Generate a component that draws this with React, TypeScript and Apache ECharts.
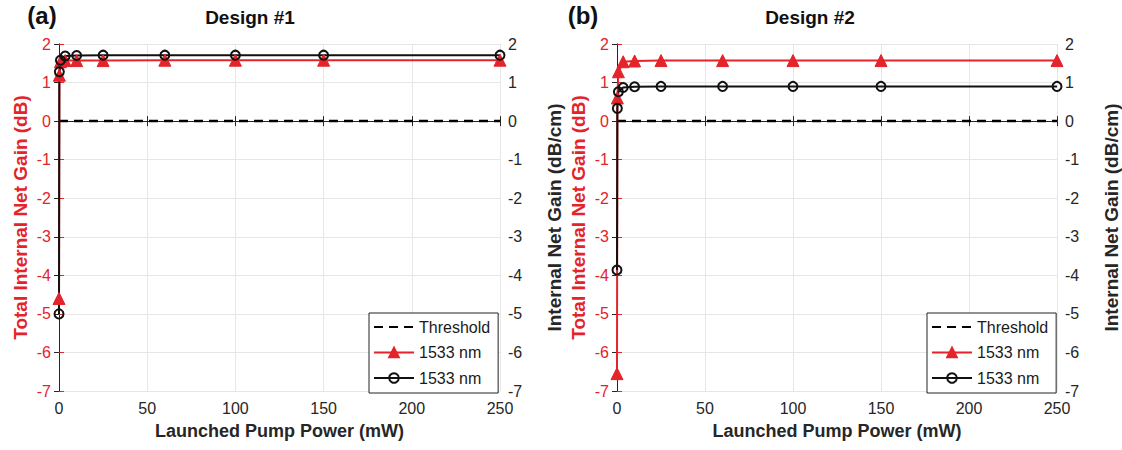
import React, { useEffect, useRef } from "react";
import * as echarts from "echarts";

// ---- data ----
const pumpPower = [0, 0.2, 0.8, 3.5, 10, 25, 60, 100, 150, 250];
const totalGainA = [-4.6, 1.19, 1.54, 1.57, 1.57, 1.57, 1.58, 1.58, 1.58, 1.58];
const perCmGainA = [-5.0, 1.28, 1.58, 1.69, 1.7, 1.71, 1.71, 1.71, 1.71, 1.71];
const totalGainB = [-6.55, 0.6, 1.28, 1.54, 1.56, 1.57, 1.57, 1.57, 1.57, 1.57];
const perCmGainB = [-3.86, 0.33, 0.76, 0.87, 0.89, 0.9, 0.9, 0.9, 0.9, 0.9];
const thresholdX = [0, 250];
const thresholdY = [0, 0];
const panelLabels = ["(a)", "(b)"];
const panelTitles = ["Design #1", "Design #2"];
const legendLabels: Record<string, string> = {
  thrA: "Threshold", redA: "1533 nm", blkA: "1533 nm",
  thrB: "Threshold", redB: "1533 nm", blkB: "1533 nm",
};

const FONT = "'Liberation Sans', Arial, sans-serif";
const RED = "#e4232a";
const DARK = "#262626";
const GRIDC = "#e6e6e6";

function pairs(xs: number[], ys: number[]) {
  return xs.map((x, i) => [x, ys[i]]);
}

export default function App() {
  const ref = useRef<HTMLDivElement>(null);
  useEffect(() => {
    document.body.style.margin = "0";
    if (!ref.current) return;
    const chart = echarts.init(ref.current, undefined, { renderer: "svg" });

    const grids = [
      { left: 59, top: 44, width: 441, height: 347 },
      { left: 617, top: 44, width: 441, height: 347 },
    ];

    const xAxes: any[] = [];
    const yAxes: any[] = [];
    [0, 1].forEach((g) => {
      xAxes.push({
        type: "value", gridIndex: g, min: 0, max: 250, interval: 50,
        name: "Launched Pump Power (mW)", nameLocation: "middle", nameGap: 31,
        nameTextStyle: { fontFamily: FONT, fontSize: 18, fontWeight: "bold", color: DARK },
        axisLine: { lineStyle: { color: DARK, width: 1 } },
        axisTick: { inside: true, length: 5, lineStyle: { color: DARK } },
        axisLabel: { fontFamily: FONT, fontSize: 16, color: DARK, margin: 9 },
        splitLine: { show: true, lineStyle: { color: GRIDC } },
      });
      xAxes.push({
        type: "value", gridIndex: g, min: 0, max: 250, interval: 50, position: "top",
        axisLine: { lineStyle: { color: DARK, width: 1 } },
        axisTick: { inside: true, length: 5, lineStyle: { color: DARK } },
        axisLabel: { show: false },
        splitLine: { show: false },
      });
      yAxes.push({
        type: "value", gridIndex: g, min: -7, max: 2, interval: 1, position: "left",
        name: "Total Internal Net Gain (dB)", nameLocation: "middle", nameRotate: 90, nameGap: 29,
        nameTextStyle: { fontFamily: FONT, fontSize: 19, fontWeight: "bold", color: RED },
        axisLine: { lineStyle: { color: RED, width: 1 } },
        axisTick: { inside: true, length: 5, lineStyle: { color: RED } },
        axisLabel: { fontFamily: FONT, fontSize: 16, color: RED, margin: 8 },
        splitLine: { show: true, lineStyle: { color: GRIDC } },
      });
      yAxes.push({
        type: "value", gridIndex: g, min: -7, max: 2, interval: 1, position: "right",
        name: "Internal Net Gain (dB/cm)", nameLocation: "middle", nameRotate: 90, nameGap: 45,
        nameTextStyle: { fontFamily: FONT, fontSize: 19, fontWeight: "bold", color: DARK },
        axisLine: { lineStyle: { color: DARK, width: 1 } },
        axisTick: { inside: true, length: 5, lineStyle: { color: DARK } },
        axisLabel: { fontFamily: FONT, fontSize: 16, color: DARK, margin: 8 },
        splitLine: { show: false },
      });
    });

    const mkSeries = (g: number, suffix: string, red: number[], blk: number[]) => [
      {
        name: "thr" + suffix, type: "line", xAxisIndex: g * 2, yAxisIndex: g * 2,
        data: pairs(thresholdX, thresholdY), symbol: "none",
        lineStyle: { color: "#000", width: 2.5, type: [9, 6] },
        itemStyle: { color: "#000" },
      },
      {
        name: "red" + suffix, type: "line", xAxisIndex: g * 2, yAxisIndex: g * 2,
        data: pairs(pumpPower, red), symbol: "triangle", symbolSize: 12,
        lineStyle: { color: RED, width: 2 },
        itemStyle: { color: RED, borderColor: RED, borderWidth: 1 },
      },
      {
        name: "blk" + suffix, type: "line", xAxisIndex: g * 2, yAxisIndex: g * 2 + 1,
        data: pairs(pumpPower, blk), symbol: "circle", symbolSize: 9,
        lineStyle: { color: "#111", width: 2 },
        itemStyle: { color: "rgba(0,0,0,0)", borderColor: "#111", borderWidth: 2 },
      },
    ];

    const legendCommon = {
      orient: "vertical", top: 313, itemWidth: 40, itemHeight: 12, itemGap: 9.5,
      padding: [6, 8, 7, 4], borderColor: "#222", borderWidth: 1, backgroundColor: "#fff",
      textStyle: { fontFamily: FONT, fontSize: 16, color: "#1a1a1a" },
      formatter: (n: string) => legendLabels[n] || n,
    };
    const hidden = { color: "rgba(0,0,0,0)", borderColor: "rgba(0,0,0,0)", borderWidth: 0 };

    const graphics: any[] = [
      { type: "text", x: 42, y: 15, style: { text: panelLabels[0], font: `bold 24px ${FONT}`, fill: "#111", textAlign: "center", textVerticalAlign: "middle" } },
      { type: "text", x: 583, y: 15, style: { text: panelLabels[1], font: `bold 24px ${FONT}`, fill: "#111", textAlign: "center", textVerticalAlign: "middle" } },
      { type: "text", x: 250, y: 17, style: { text: panelTitles[0], font: `bold 19px ${FONT}`, fill: "#111", textAlign: "center", textVerticalAlign: "middle" } },
      { type: "text", x: 810, y: 17, style: { text: panelTitles[1], font: `bold 19px ${FONT}`, fill: "#111", textAlign: "center", textVerticalAlign: "middle" } },
    ];

    chart.setOption({
      animation: false,
      backgroundColor: "#fff",
      grid: grids,
      xAxis: xAxes,
      yAxis: yAxes,
      legend: [
        { ...legendCommon, left: 369, data: [{ name: "thrA", itemStyle: hidden }, "redA", "blkA"] },
        { ...legendCommon, left: 927, data: [{ name: "thrB", itemStyle: hidden }, "redB", "blkB"] },
      ],
      graphic: graphics,
      series: [
        ...mkSeries(0, "A", totalGainA, perCmGainA),
        ...mkSeries(1, "B", totalGainB, perCmGainB),
      ],
    });
    return () => chart.dispose();
  }, []);
  return <div ref={ref} style={{ width: 1122, height: 450 }} />;
}
